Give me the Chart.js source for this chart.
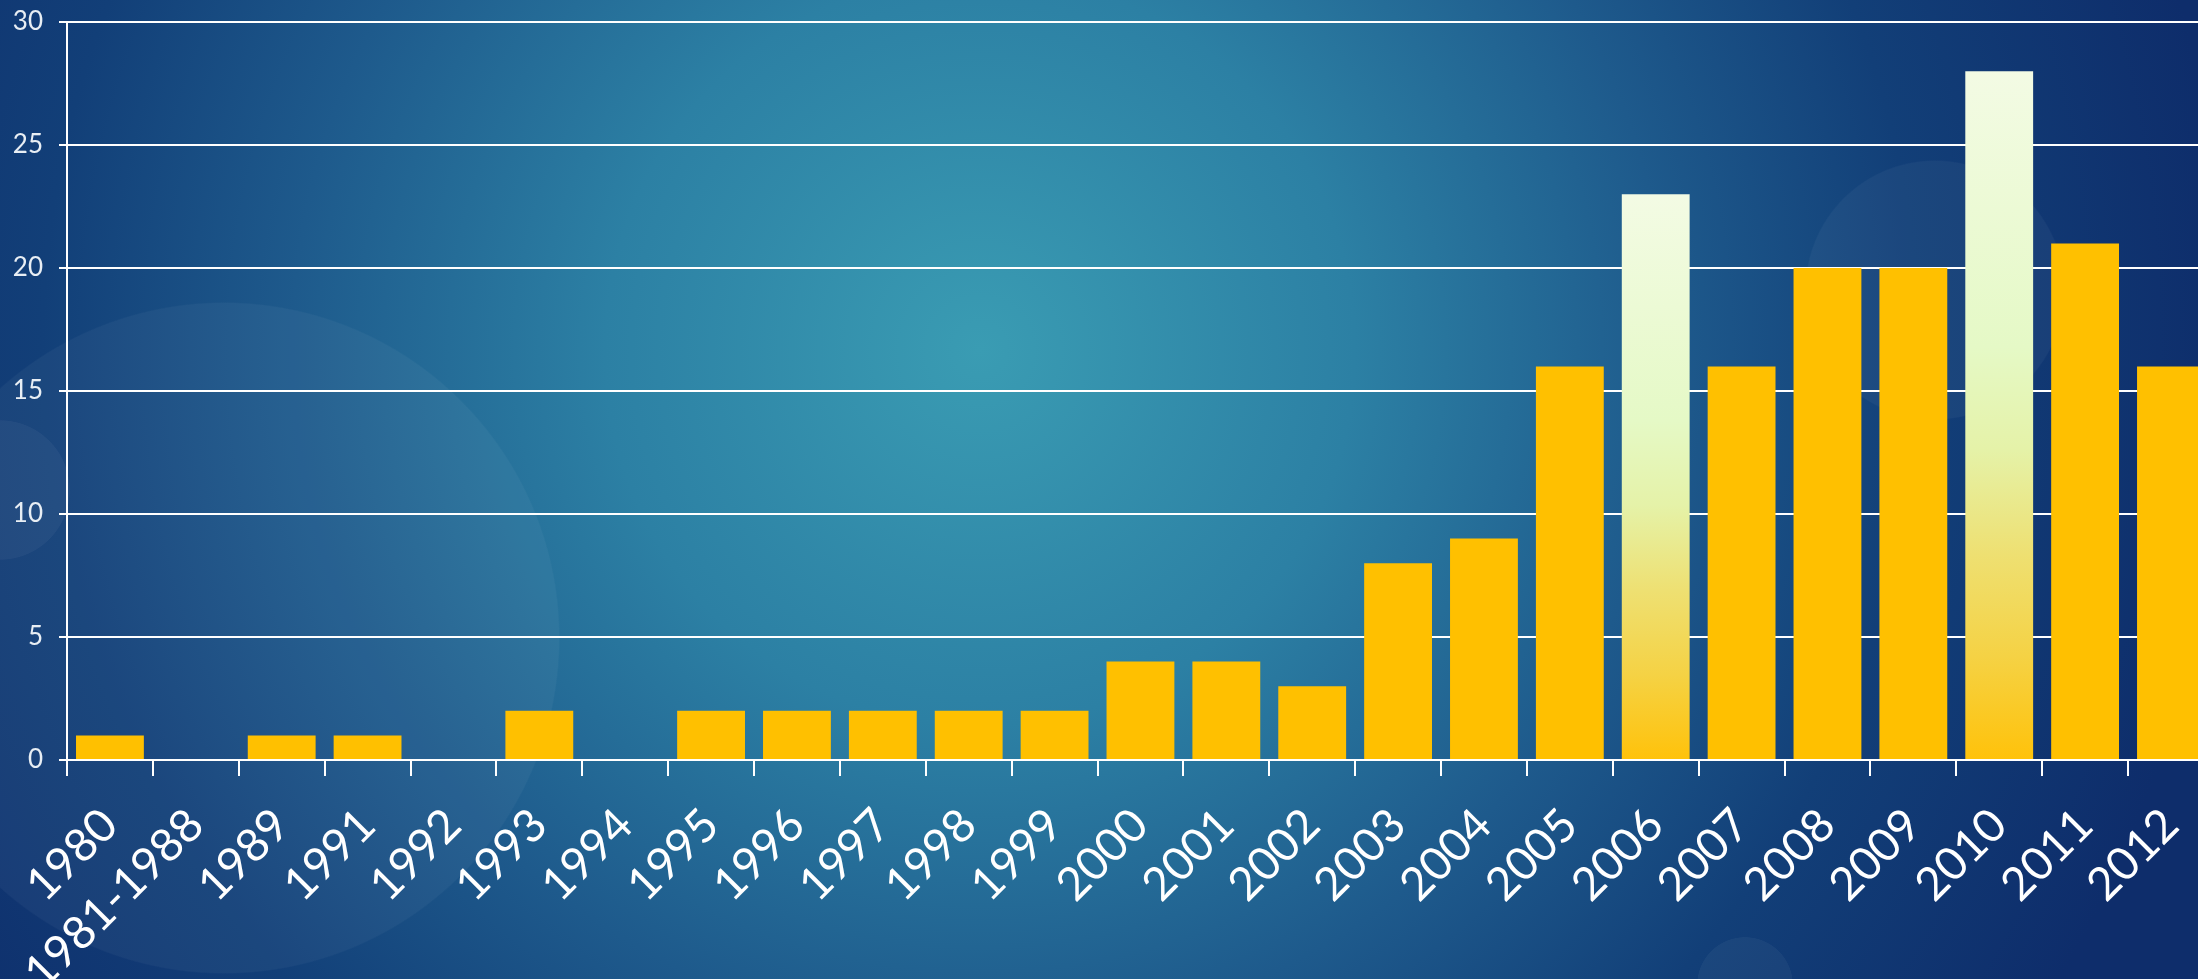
<!DOCTYPE html>
<html>
<head>
<meta charset="utf-8">
<script src="https://cdn.jsdelivr.net/npm/chart.js@4/dist/chart.umd.min.js"></script>
<style>
  html, body {
    margin: 0;
    padding: 0;
    width: 2198px;
    height: 979px;
    overflow: hidden;
  }
  body {
    background:
      radial-gradient(circle 336px at 224px 638px, rgba(255,255,255,0.04) 99.6%, rgba(255,255,255,0) 100%),
      radial-gradient(circle 130px at 1935px 290px, rgba(255,255,255,0.04) 99%, rgba(255,255,255,0) 100%),
      radial-gradient(circle 70px at 0px 490px, rgba(255,255,255,0.04) 99%, rgba(255,255,255,0) 100%),
      radial-gradient(circle 48px at 1745px 985px, rgba(255,255,255,0.04) 99%, rgba(255,255,255,0) 100%),
      radial-gradient(circle 1250px at 980px 350px, #3a9cb3 0%, #2c80a4 30%, #1e5a8c 55%, #123f78 75%, #0e2d6b 100%);
  }
  #wrap {
    position: absolute;
    left: 0;
    top: 0;
    width: 2232px;
    height: 979px;
  }
</style>
</head>
<body>
<div id="wrap"><canvas id="chart"></canvas></div>
<script>
const years = ['1980', '1981-1988', '1989', '1991', '1992', '1993', '1994', '1995', '1996', '1997',
  '1998', '1999', '2000', '2001', '2002', '2003', '2004', '2005', '2006', '2007',
  '2008', '2009', '2010', '2011', '2012'];
const counts = [1, 0, 1, 1, 0, 2, 0, 2, 2, 2,
  2, 2, 4, 4, 3, 8, 9, 16, 23, 16,
  20, 20, 28, 21, 16];
const highlighted = ['2006', '2010'];
const yTicks = [0, 5, 10, 15, 20, 25, 30];

const gold = '#ffc000';
const labelFont = 'Lato, "DejaVu Sans", sans-serif';

function barColor(context) {
  const chart = context.chart;
  if (!highlighted.includes(years[context.dataIndex])) return gold;
  if (!chart.chartArea) return gold;
  const y = chart.scales.y;
  const top = y.getPixelForValue(context.raw);
  const bottom = y.getPixelForValue(0);
  const g = chart.ctx.createLinearGradient(0, top, 0, bottom);
  g.addColorStop(0, '#f3fbe4');
  g.addColorStop(0.4, '#e5f9c6');
  g.addColorStop(0.55, '#e5f2a8');
  g.addColorStop(0.7, '#eee072');
  g.addColorStop(0.85, '#f5d244');
  g.addColorStop(1, '#ffc20a');
  return g;
}

const chart = new Chart(document.getElementById('chart'), {
  type: 'bar',
  data: {
    labels: years,
    datasets: [{
      data: counts,
      backgroundColor: barColor,
      borderWidth: 0,
      categoryPercentage: 1,
      barPercentage: 0.79
    }]
  },
  options: {
    responsive: true,
    maintainAspectRatio: false,
    animation: false,
    layout: { padding: { top: 22, right: 0, left: 0, bottom: 0 } },
    plugins: {
      legend: { display: false },
      tooltip: { enabled: false }
    },
    scales: {
      x: {
        grid: {
          drawOnChartArea: false,
          drawTicks: true,
          tickLength: 16,
          color: '#ffffff',
          lineWidth: 2
        },
        border: { display: true, color: '#ffffff', width: 2 },
        ticks: {
          color: '#ffffff',
          font: { family: labelFont, size: 46 },
          minRotation: 45,
          maxRotation: 45,
          autoSkip: false,
          padding: 22
        },
        afterFit(scale) { scale.height = 219; }
      },
      y: {
        min: 0,
        max: 30,
        afterBuildTicks(scale) { scale.ticks = yTicks.map(v => ({ value: v })); },
        grid: {
          color: '#ffffff',
          lineWidth: 2,
          tickLength: 8
        },
        border: { display: true, color: '#ffffff', width: 2 },
        ticks: {
          color: '#e8eef4',
          font: { family: labelFont, size: 26 },
          padding: 16
        },
        afterFit(scale) {
          scale.width = 67;
          // the "30" label may sit in the top padding
          scale.paddingTop = 0;
          scale.paddingBottom = 0;
        }
      }
    }
  }
});
</script>
</body>
</html>
